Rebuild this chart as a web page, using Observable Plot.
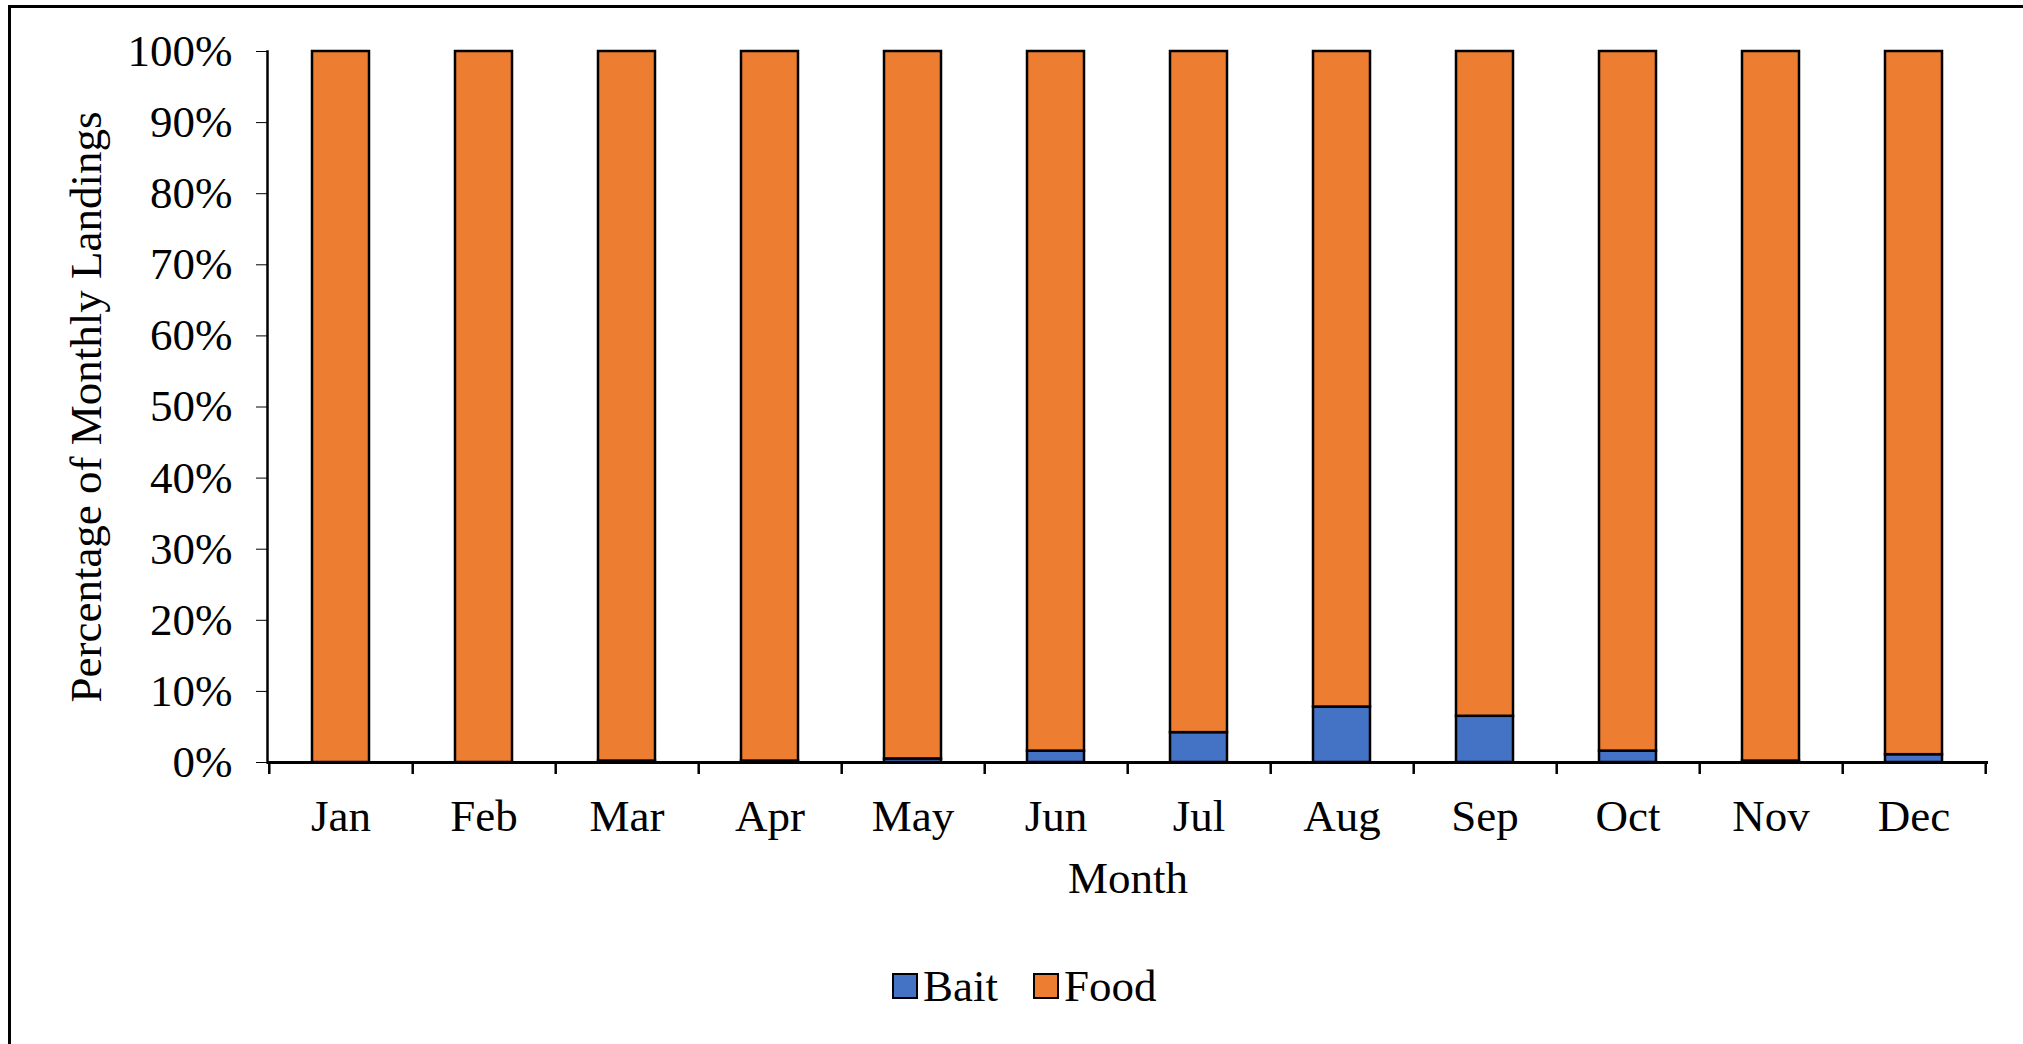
<!DOCTYPE html>
<html>
<head>
<meta charset="utf-8">
<script src="https://cdn.jsdelivr.net/npm/d3@7"></script>
<script src="https://cdn.jsdelivr.net/npm/@observablehq/plot@0.6"></script>
<style>
  html, body { margin: 0; padding: 0; background: #fff; }
  body { width: 2023px; height: 1044px; position: relative; overflow: hidden; font-family: "Liberation Serif", "Times New Roman", serif; }
  #chart { position: absolute; left: 0; top: 0; }
  #frame { position: absolute; left: 8px; top: 5px; width: 2100px; height: 1100px; border-left: 3px solid #000; border-top: 3px solid #000; pointer-events: none; }
  #legend { position: absolute; top: 960px; left: 0; width: 2023px; height: 60px; display: flex; justify-content: flex-start; align-items: center; font-size: 45px; color: #000; }
  .item { display: flex; align-items: center; position: absolute; top: 0; }
  .sw { width: 22px; height: 22px; border: 2.5px solid #000; margin-right: 5px; }
</style>
</head>
<body>
<div id="chart"></div>
<div id="frame"></div>
<div id="legend"></div>
<script>
// ---- data ----
const months = ["Jan","Feb","Mar","Apr","May","Jun","Jul","Aug","Sep","Oct","Nov","Dec"];
const baitPct = [0, 0, 0.2, 0.2, 0.5, 1.6, 4.2, 7.8, 6.5, 1.6, 0.2, 1.1];
const foodPct = [100, 100, 99.8, 99.8, 99.5, 98.4, 95.8, 92.2, 93.5, 98.4, 99.8, 98.9];
const seriesNames = ["Bait", "Food"];
const seriesColors = ["#4472C4", "#ED7D31"];
const yTicks = [0,10,20,30,40,50,60,70,80,90,100];

// ---- layout ----
const W = 2023, H = 920;
const mL = 267, mR = 35, mT = 51, mB = H - 762;
const step = (W - mL - mR) / months.length;

const rows = [];
months.forEach((m, i) => {
  rows.push({month: m, type: "Bait", value: baitPct[i]});
  rows.push({month: m, type: "Food", value: foodPct[i]});
});

const font = "Liberation Serif, Times New Roman, serif";

const chart = Plot.plot({
  width: W,
  height: H,
  marginLeft: mL,
  marginRight: mR,
  marginTop: mT,
  marginBottom: mB,
  style: {fontFamily: font, fontSize: "45px", color: "#000", background: "#fff"},
  x: {domain: months, paddingInner: 0.6, paddingOuter: 0.3, axis: null},
  y: {domain: [0, 100], axis: null},
  color: {domain: seriesNames, range: seriesColors},
  marks: [
    Plot.barY(rows, Plot.stackY({order: seriesNames}, {x: "month", y: "value", fill: "type", stroke: "#000", strokeWidth: 2.5})),
    Plot.axisY({ticks: yTicks, tickFormat: d => d + "%", tickSize: 11, tickPadding: 24, tickStrokeWidth: 2.5, stroke: "#000", fontSize: 45, label: "Percentage of Monthly Landings", labelAnchor: "center", labelArrow: "none", labelOffset: 198, fill: "#000"}),
    Plot.axisX({tickSize: 0, tickPadding: 37, fontSize: 45, label: "Month", labelAnchor: "center", labelArrow: "none", labelOffset: 130, fill: "#000"}),
    Plot.frame({anchor: "left", stroke: "#000", strokeWidth: 2.5}),
    Plot.ruleY([0], {stroke: "#000", strokeWidth: 3}),
    Plot.ruleX(months, {x: d => d, dx: step / 2, y1: 0, y2: 0, insetBottom: -12, stroke: "#000", strokeWidth: 2.5}),
    Plot.ruleX([months[0]], {x: d => d, dx: -step / 2, y1: 0, y2: 0, insetBottom: -12, stroke: "#000", strokeWidth: 2.5})
  ]
});
document.getElementById("chart").appendChild(chart);

// legend
const legend = document.getElementById("legend");
const legendX = [892, 1033];
seriesNames.forEach((name, i) => {
  const item = document.createElement("div");
  item.className = "item";
  item.style.left = legendX[i] + "px";
  const sw = document.createElement("div");
  sw.className = "sw";
  sw.style.background = seriesColors[i];
  const t = document.createElement("span");
  t.textContent = name;
  item.appendChild(sw);
  item.appendChild(t);
  legend.appendChild(item);
});
</script>
</body>
</html>
